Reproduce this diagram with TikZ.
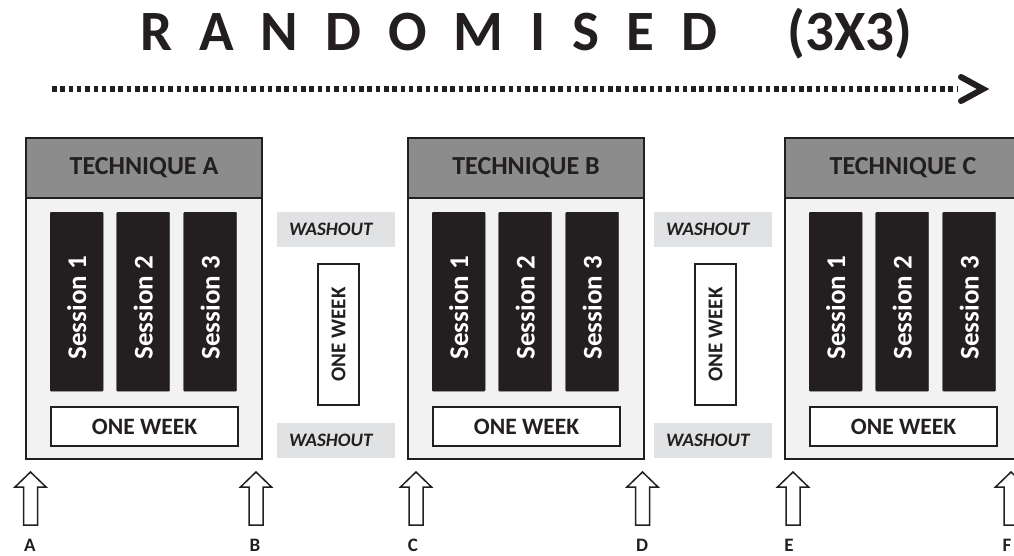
\documentclass[tikz,border=0pt]{standalone}
\usepackage{fontspec}
\setmainfont{Carlito}

\definecolor{ink}{HTML}{231F20}
\definecolor{headgrey}{HTML}{8C8C8C}
\definecolor{bodygrey}{HTML}{F2F2F2}
\definecolor{washgrey}{HTML}{E1E2E4}

\tikzset{
  titletext/.style={anchor=base west, inner sep=0pt, text=ink,
    font=\bfseries\fontsize{57}{57}\selectfont},
  panel/.style={draw=ink, line width=2pt, fill=bodygrey, anchor=north west,
    minimum width=236pt, minimum height=321pt, inner sep=0pt},
  header/.style={draw=ink, line width=2pt, fill=headgrey, anchor=north west,
    minimum width=236pt, minimum height=60pt, inner sep=0pt, text=ink,
    font=\bfseries\fontsize{26}{26}\selectfont},
  sessionbar/.style={fill=ink, draw=ink, rounded corners=1pt, anchor=north west,
    minimum width=53pt, minimum height=179pt, inner sep=0pt},
  sessiontext/.style={rotate=90, text=white, inner sep=0pt,
    font=\bfseries\fontsize{27}{27}\selectfont},
  weekbox/.style={draw=ink, line width=2pt, fill=white, anchor=north west,
    minimum width=187pt, minimum height=39pt, inner sep=0pt, text=ink,
    font=\bfseries\fontsize{23.5}{23.5}\selectfont},
  washout/.style={fill=washgrey, anchor=north west, minimum height=35pt,
    text width=94pt, align=left, inner xsep=12pt, inner ysep=0pt, text=ink,
    font=\bfseries\itshape\fontsize{19}{19}\selectfont},
  gapweek/.style={draw=ink, line width=2pt, fill=white, rotate=90,
    minimum width=141pt, minimum height=41pt, inner sep=0pt, text=ink,
    font=\bfseries\fontsize{21}{21}\selectfont},
  marklabel/.style={anchor=base, inner sep=0pt, text=ink,
    font=\bfseries\fontsize{19}{19}\selectfont},
  uparrow/.pic={
    \draw[line width=1.5pt, draw=ink, fill=white, line join=miter]
      (0,472) -- (15.5,487) -- (7,487) -- (7,525) -- (-7,525)
      -- (-7,487) -- (-15.5,487) -- cycle;
  }
}

\begin{document}
\begin{tikzpicture}[x=1pt,y=-1pt]
\useasboundingbox (0,0) rectangle (1014,555);
\clip (0,0) rectangle (1014,555);

% heading
\node[titletext] (title) at (140,50)
  {{\spaceskip=27pt R A N D O M I S E D}\hspace{70pt}(3X3)};

% dotted timeline arrow
\coordinate (dotstart) at (52,89);
\coordinate (dotend) at (957,89);
\coordinate (tip) at (983,89);
\draw[ink, line width=5.5pt, dash pattern=on 4.5pt off 3.8pt] (dotstart) -- (dotend);
\draw[ink, line width=6pt, line cap=round, line join=miter]
  ([xshift=-22pt,yshift=12pt]tip) -- (tip) -- ([xshift=-22pt,yshift=-12pt]tip);

% technique panels
\foreach \px/\t in {25/A,407/B,784/C}{
  \node[panel] (panel\t) at (\px,137) {};
  \node[header] (head\t) at (\px,137) {TECHNIQUE \t};
  \foreach \k/\dx in {1/25,2/91.5,3/158.5}{
    \node[sessionbar] (bar\t\k) at (\px+\dx,212) {};
    \node[sessiontext] (lab\t\k) at ([yshift=-6pt]bar\t\k.center) {Session \k};
  }
  \node[weekbox] (week\t) at (\px+25,406) {ONE WEEK};
}

% washout periods between panels
\foreach \wx/\n in {277/1,654/2}{
  \node[washout] (washtop\n) at (\wx,212) {WASHOUT};
  \node[washout] (washbot\n) at (\wx,423) {WASHOUT};
  \node[gapweek] (gapweek\n) at (\wx+61.5,334.5) {ONE WEEK};
}

% assessment points
\foreach \ax/\lx/\l in {30.5/30/A,256/255/B,416/413/C,642.5/642/D,793/789/E,1011/1007/F}{
  \pic (arr\l) at (\ax,0) {uparrow};
  \node[marklabel] (lbl\l) at (\lx,551) {\l};
}
\end{tikzpicture}
\end{document}
